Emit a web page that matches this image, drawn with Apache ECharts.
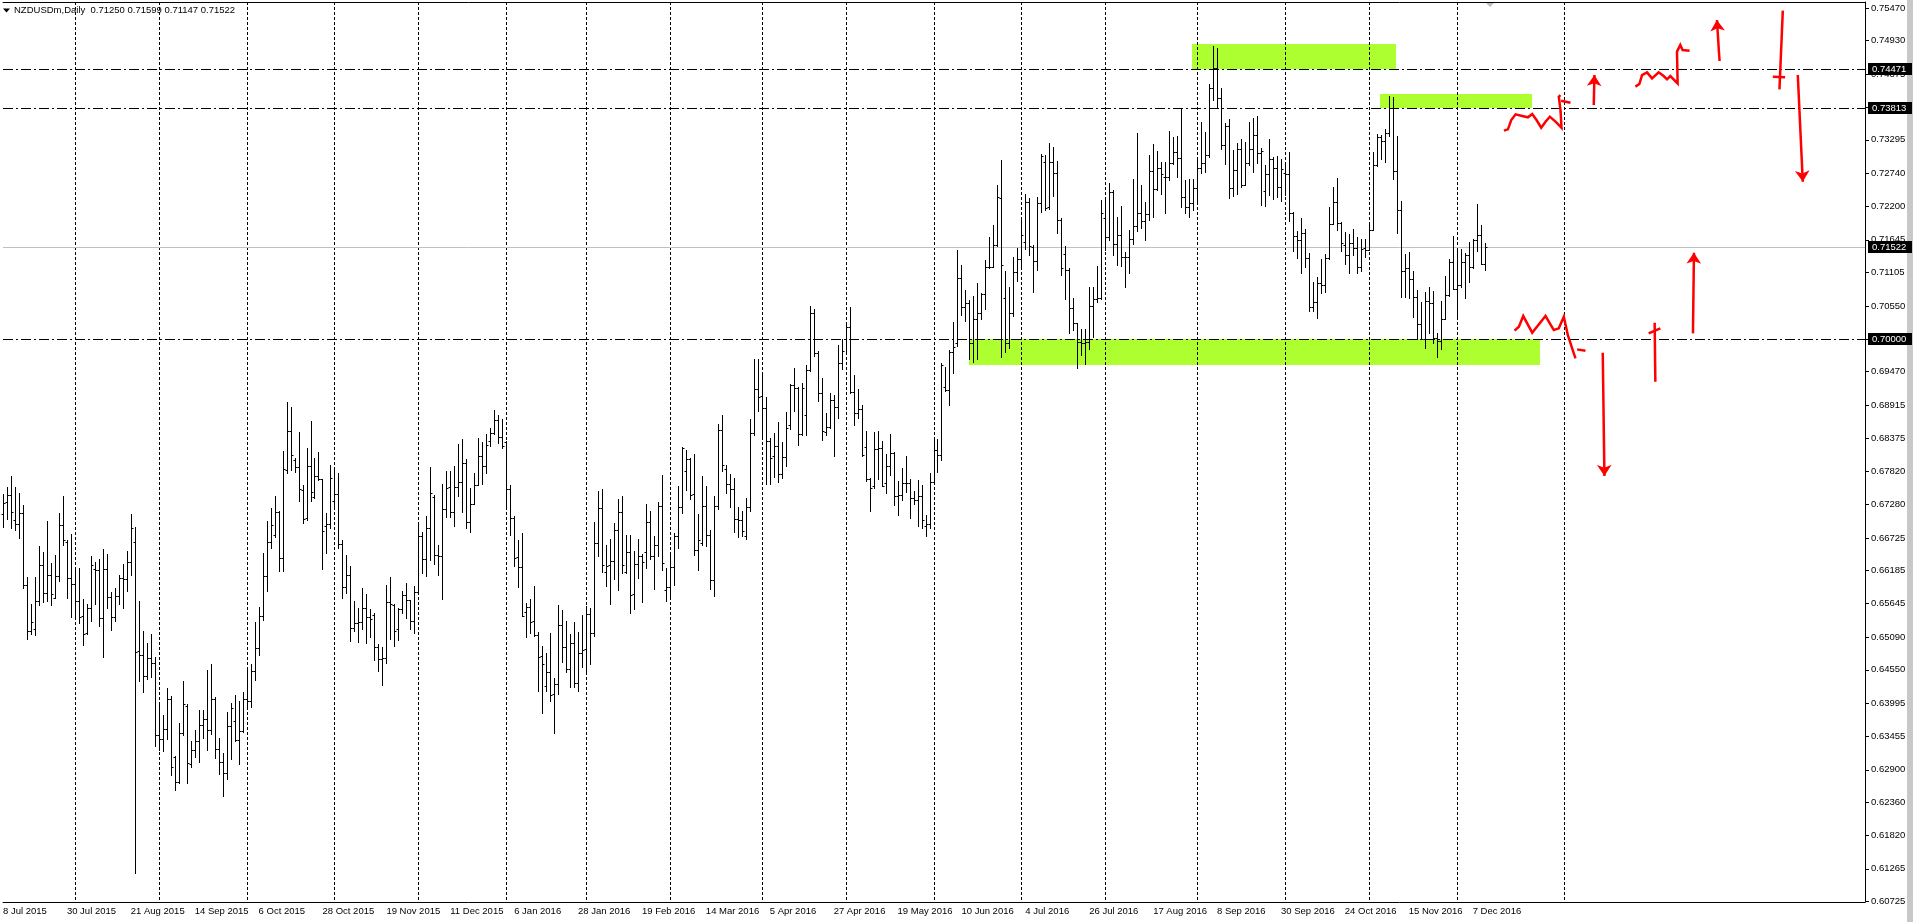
<!DOCTYPE html>
<html><head><meta charset="utf-8">
<script src="https://cdn.jsdelivr.net/npm/echarts@6.0.0/dist/echarts.min.js"></script>
<style>html,body{margin:0;padding:0;background:#fff;overflow:hidden}#c{width:1913px;height:922px}</style>
</head><body><div id="c"></div><script>
// NZDUSDm daily bars, index 0 = 8 Jul 2015 ... index 371 = 12 Dec 2016
const symbolTitle = 'NZDUSDm,Daily';
const opens = [
0.67120,0.67313,0.67429,0.67022,0.66956,0.67132,0.65944,0.65196,0.65229,0.65691,
0.66274,0.65817,0.66109,0.65735,0.66092,0.66939,0.66664,0.66059,0.65960,0.65691,
0.65443,0.65163,0.65570,0.66219,0.66191,0.65410,0.66219,0.65751,0.65421,0.65768,
0.66059,0.66050,0.66323,0.66664,0.64860,0.64794,0.64448,0.64745,0.64665,0.63469,
0.63403,0.63573,0.64074,0.63117,0.62693,0.63513,0.63950,0.62990,0.63227,0.63381,
0.63634,0.63738,0.63557,0.64063,0.63249,0.63034,0.62842,0.63623,0.63705,0.63390,
0.63546,0.64063,0.64035,0.64536,0.64904,0.65432,0.66092,0.66653,0.66769,0.67154,
0.66389,0.67841,0.68496,0.68012,0.67891,0.67511,0.67049,0.67918,0.67407,0.67748,
0.67690,0.66923,0.66950,0.67330,0.67445,0.66620,0.65922,0.66109,0.65245,0.65317,
0.65339,0.65564,0.65421,0.65449,0.64932,0.64723,0.64739,0.65669,0.65614,0.65218,
0.65559,0.65779,0.65696,0.65361,0.65839,0.66752,0.66378,0.66895,0.67407,0.66439,
0.66428,0.67198,0.67561,0.67159,0.67561,0.67643,0.67962,0.66983,0.67286,0.67605,
0.68072,0.67913,0.68331,0.68452,0.68672,0.68386,0.68309,0.67528,0.67055,0.66406,
0.66241,0.65498,0.65581,0.65361,0.65119,0.64778,0.64280,0.64514,0.64151,0.64316,
0.65295,0.64921,0.64558,0.64998,0.64327,0.64833,0.64888,0.65465,0.65152,0.66637,
0.67214,0.66158,0.66274,0.66340,0.66851,0.67154,0.66164,0.66488,0.65806,0.66290,
0.66428,0.66488,0.66989,0.66433,0.66604,0.67253,0.65867,0.65911,0.66241,0.66758,
0.67236,0.67825,0.68023,0.67451,0.66527,0.66648,0.67253,0.66769,0.66032,0.67253,
0.68507,0.67869,0.67610,0.67539,0.67033,0.67022,0.66763,0.67231,0.68463,0.69183,
0.69073,0.68870,0.68331,0.68078,0.68248,0.67781,0.68056,0.68589,0.69249,0.69194,
0.68441,0.68754,0.69502,0.70443,0.69772,0.69123,0.68468,0.68562,0.69002,0.68886,
0.69607,0.70003,0.70201,0.69139,0.68793,0.68853,0.68232,0.67698,0.67577,0.68188,
0.68204,0.67638,0.67913,0.68127,0.67412,0.67429,0.67627,0.67638,0.67385,0.67352,
0.67418,0.66923,0.66956,0.67649,0.68171,0.68094,0.69216,0.69167,0.69794,0.69948,
0.71015,0.70536,0.70602,0.69937,0.70338,0.70437,0.70745,0.71196,0.71202,0.71559,
0.72340,0.70685,0.69937,0.70443,0.71108,0.71323,0.71603,0.72263,0.71521,0.71295,
0.72252,0.72929,0.72192,0.72934,0.72742,0.71966,0.71405,0.71147,0.70514,0.70267,
0.69964,0.69937,0.69964,0.70553,0.70668,0.70679,0.72005,0.71692,0.72428,0.71570,
0.71719,0.71367,0.71356,0.71658,0.71873,0.72082,0.71950,0.72071,0.72780,0.72489,
0.72835,0.72687,0.72676,0.72907,0.73088,0.72995,0.72357,0.72181,0.72250,0.72494,
0.72830,0.72918,0.73039,0.74144,0.74474,0.73979,0.73204,0.73523,0.72494,0.72797,
0.73138,0.72549,0.72907,0.73138,0.73369,0.73083,0.72450,0.72725,0.72984,0.72824,
0.72511,0.72742,0.72731,0.72082,0.71713,0.71642,0.71752,0.71350,0.70542,0.70613,
0.70927,0.70899,0.71339,0.71906,0.72263,0.71928,0.71559,0.71389,0.71587,0.71510,
0.71202,0.71504,0.71482,0.71807,0.72874,0.73336,0.73270,0.73407,0.73814,0.72780,
0.72131,0.71136,0.71180,0.70998,0.70701,0.70256,0.70008,0.70641,0.70608,0.70030,
0.69981,0.70344,0.70729,0.71279,0.70834,0.70899,0.71279,0.71400,0.71196,0.71636,
0.71724,0.71250];
const highs = [
0.67450,0.67572,0.67753,0.67561,0.67462,0.67264,0.66076,0.65636,0.66076,0.66598,
0.66499,0.67005,0.66307,0.66450,0.67132,0.67418,0.66686,0.66796,0.66208,0.66224,
0.65718,0.65636,0.66433,0.66323,0.66384,0.66549,0.66466,0.65828,0.65900,0.66109,
0.66296,0.66516,0.67115,0.66912,0.65691,0.65196,0.64987,0.65141,0.64767,0.63980,
0.63804,0.64244,0.64123,0.63130,0.63667,0.64360,0.63990,0.63381,0.63562,0.63887,
0.63887,0.64552,0.64651,0.64096,0.63430,0.63172,0.63854,0.63997,0.64129,0.64035,
0.64178,0.64585,0.64651,0.65333,0.65581,0.66483,0.67005,0.67220,0.67412,0.67165,
0.68160,0.68963,0.68881,0.68050,0.68468,0.67594,0.68204,0.68650,0.68050,0.68144,
0.67700,0.67132,0.67924,0.67863,0.67792,0.66686,0.66444,0.66263,0.65685,0.65564,
0.65900,0.65806,0.65559,0.65482,0.64981,0.64926,0.65949,0.66081,0.65640,0.65570,
0.65845,0.65988,0.65702,0.65927,0.66956,0.66829,0.67088,0.67891,0.67430,0.66609,
0.67616,0.67836,0.67836,0.67913,0.68276,0.68353,0.68030,0.67555,0.67803,0.68369,
0.68314,0.68441,0.68534,0.68837,0.68754,0.68683,0.68320,0.67594,0.67093,0.66686,
0.66802,0.65658,0.65713,0.65927,0.65170,0.64943,0.64827,0.65152,0.64415,0.65614,
0.65537,0.65350,0.65135,0.65333,0.65174,0.65449,0.65597,0.65564,0.66989,0.67500,
0.67533,0.66609,0.66708,0.66967,0.67374,0.67418,0.66780,0.66780,0.66505,0.66708,
0.66461,0.67290,0.67173,0.66758,0.67319,0.67759,0.66230,0.66466,0.66807,0.67577,
0.68221,0.68177,0.68039,0.68111,0.67121,0.67742,0.67583,0.66851,0.67418,0.68606,
0.68754,0.67929,0.67775,0.67709,0.67242,0.67170,0.67390,0.68683,0.69673,0.69684,
0.69431,0.69057,0.68375,0.68457,0.68639,0.68309,0.68804,0.69266,0.69530,0.69216,
0.69282,0.69579,0.70553,0.70503,0.69810,0.69365,0.68793,0.69123,0.69079,0.69909,
0.70003,0.70250,0.70536,0.69414,0.69183,0.68919,0.68490,0.67710,0.68474,0.68490,
0.68325,0.68111,0.68441,0.68140,0.67665,0.67880,0.68078,0.67693,0.67506,0.67682,
0.67599,0.67099,0.67792,0.68347,0.68358,0.69607,0.69546,0.69821,0.70283,0.71477,
0.71224,0.70817,0.70646,0.70718,0.70927,0.70760,0.71317,0.71686,0.71895,0.72549,
0.72962,0.71136,0.70872,0.71361,0.71515,0.72010,0.72406,0.72340,0.71554,0.72351,
0.73061,0.73050,0.73248,0.73176,0.72945,0.72010,0.71543,0.71180,0.70685,0.70272,
0.70179,0.70179,0.70872,0.70866,0.71213,0.72302,0.72296,0.72577,0.72467,0.72027,
0.72203,0.71449,0.71807,0.72654,0.73413,0.72549,0.72274,0.73044,0.73231,0.73110,
0.72934,0.72923,0.73440,0.73347,0.73358,0.73814,0.72632,0.72654,0.72648,0.73000,
0.73589,0.73429,0.74210,0.74848,0.74804,0.74144,0.73567,0.73633,0.73127,0.73242,
0.73308,0.73253,0.73583,0.73649,0.73688,0.73154,0.72874,0.73308,0.73017,0.73022,
0.72984,0.72890,0.73088,0.72100,0.71790,0.71999,0.71823,0.71433,0.70943,0.71031,
0.71323,0.71411,0.72192,0.72511,0.72670,0.71944,0.71768,0.71746,0.71829,0.71686,
0.71664,0.71664,0.71906,0.73088,0.73391,0.73374,0.73468,0.74018,0.74001,0.73358,
0.72285,0.71416,0.71444,0.71136,0.70822,0.70624,0.70789,0.70861,0.70795,0.70102,
0.70641,0.71048,0.71328,0.71708,0.71504,0.71498,0.71433,0.71609,0.71664,0.72236,
0.71889,0.71599];
const lows = [
0.66900,0.67033,0.66884,0.66857,0.66730,0.65894,0.65064,0.65141,0.65130,0.65614,
0.65663,0.65685,0.65614,0.65729,0.66021,0.66609,0.65729,0.65421,0.65416,0.65322,
0.64965,0.65141,0.65355,0.65630,0.65273,0.64756,0.65564,0.65207,0.65355,0.65630,
0.65564,0.65850,0.66120,0.61192,0.64371,0.64184,0.64393,0.64437,0.63298,0.63232,
0.63216,0.63403,0.62814,0.62561,0.62680,0.63474,0.62688,0.62952,0.63106,0.63034,
0.63430,0.63227,0.63485,0.63100,0.62831,0.62473,0.62743,0.63084,0.63375,0.62996,
0.63520,0.63936,0.63931,0.64387,0.64800,0.65366,0.65856,0.66565,0.66736,0.66186,
0.66186,0.67800,0.67841,0.67808,0.67341,0.66978,0.67016,0.67341,0.67390,0.67682,
0.66219,0.66483,0.66890,0.67214,0.66554,0.65736,0.65812,0.65031,0.65190,0.65014,
0.65230,0.64998,0.65091,0.64712,0.64536,0.64305,0.64668,0.65064,0.64948,0.65047,
0.65482,0.65405,0.65229,0.65163,0.65800,0.66153,0.66092,0.66356,0.66290,0.66120,
0.65718,0.67071,0.67066,0.66928,0.67418,0.67159,0.66895,0.66829,0.67280,0.67594,
0.67610,0.67797,0.68248,0.68440,0.68298,0.68215,0.67209,0.66780,0.66268,0.65922,
0.65432,0.65097,0.65163,0.65113,0.64206,0.63832,0.64206,0.64041,0.63502,0.64145,
0.64684,0.64514,0.64272,0.64272,0.64206,0.64591,0.64503,0.64640,0.65108,0.66428,
0.66164,0.65938,0.65641,0.66048,0.65872,0.66142,0.66153,0.65482,0.65548,0.66070,
0.65663,0.66235,0.66384,0.65889,0.66428,0.66191,0.65685,0.65724,0.65954,0.66565,
0.67143,0.67511,0.67363,0.66439,0.66202,0.66604,0.66587,0.65889,0.65773,0.67198,
0.67836,0.67473,0.67231,0.66829,0.66741,0.66752,0.66703,0.67176,0.68419,0.68820,
0.68353,0.67610,0.67610,0.67737,0.67643,0.67720,0.67918,0.68518,0.68826,0.68254,
0.68424,0.68424,0.69486,0.69728,0.68990,0.68347,0.68424,0.68545,0.68083,0.68710,
0.69508,0.69772,0.69112,0.68589,0.68710,0.68083,0.67671,0.67176,0.67550,0.67704,
0.67577,0.67473,0.67759,0.67275,0.67110,0.67352,0.67484,0.67060,0.67286,0.66923,
0.66884,0.66763,0.66895,0.67632,0.67808,0.68017,0.69150,0.68925,0.69453,0.69893,
0.70399,0.70305,0.69673,0.69634,0.69673,0.70333,0.70498,0.71174,0.71191,0.71537,
0.69717,0.69794,0.69865,0.70393,0.70965,0.71174,0.71493,0.71389,0.70789,0.71140,
0.72104,0.72142,0.72159,0.72373,0.71752,0.71070,0.70674,0.70102,0.70157,0.69524,
0.69750,0.69590,0.69838,0.70047,0.70624,0.70660,0.71477,0.71642,0.71400,0.71224,
0.71213,0.70872,0.71103,0.71576,0.71785,0.71834,0.71647,0.71977,0.72027,0.72467,
0.72406,0.72087,0.72632,0.72890,0.72687,0.72192,0.72093,0.72027,0.72137,0.72258,
0.72742,0.72769,0.73006,0.73952,0.73814,0.73138,0.72896,0.72341,0.72368,0.72406,
0.72522,0.72544,0.72879,0.72769,0.72918,0.72219,0.72208,0.72384,0.72324,0.72351,
0.72280,0.72379,0.71961,0.71466,0.71350,0.71092,0.71202,0.70465,0.70476,0.70349,
0.70773,0.70778,0.71328,0.71900,0.71807,0.71466,0.71240,0.71092,0.71389,0.71092,
0.71136,0.71366,0.71477,0.71801,0.72860,0.72973,0.72929,0.73358,0.72643,0.71752,
0.70696,0.70701,0.70679,0.70377,0.70003,0.70003,0.69860,0.70113,0.69948,0.69717,
0.69843,0.70340,0.70720,0.70828,0.70377,0.70872,0.70685,0.70949,0.71180,0.71466,
0.71246,0.71147];
const closes = [
0.67310,0.67429,0.67148,0.66956,0.67132,0.65944,0.65196,0.65339,0.65691,0.66274,
0.65817,0.66109,0.65801,0.66092,0.66939,0.66692,0.66059,0.65960,0.65680,0.65427,
0.65141,0.65570,0.66274,0.66197,0.65410,0.66219,0.65751,0.65421,0.65768,0.66059,
0.66050,0.66323,0.66890,0.64849,0.64794,0.64448,0.64745,0.64665,0.63469,0.63403,
0.63573,0.64074,0.62941,0.62693,0.63513,0.63980,0.63012,0.63227,0.63381,0.63634,
0.63738,0.63557,0.64063,0.63249,0.63034,0.62842,0.63623,0.63914,0.63390,0.63546,
0.64063,0.64035,0.64536,0.64904,0.65432,0.66092,0.66653,0.66934,0.67154,0.66389,
0.67869,0.68496,0.68089,0.67891,0.67528,0.67033,0.67918,0.67478,0.67748,0.67690,
0.66835,0.66950,0.67709,0.67445,0.66620,0.65922,0.66109,0.65245,0.65317,0.65339,
0.65564,0.65421,0.65394,0.64932,0.64723,0.64739,0.65669,0.65636,0.65196,0.65559,
0.65779,0.65696,0.65361,0.65839,0.66752,0.66378,0.66895,0.67462,0.66439,0.66428,
0.67198,0.67544,0.67159,0.67561,0.67643,0.67962,0.66983,0.67286,0.67605,0.68072,
0.67913,0.68254,0.68452,0.68672,0.68386,0.68248,0.67528,0.67055,0.66395,0.66241,
0.65443,0.65581,0.65339,0.65119,0.64767,0.64640,0.64514,0.64129,0.64316,0.65295,
0.64921,0.64558,0.64998,0.64327,0.64833,0.64877,0.65465,0.65152,0.66637,0.67214,
0.66274,0.66263,0.66340,0.66851,0.67154,0.66274,0.66488,0.65784,0.66290,0.66428,
0.66329,0.66989,0.66433,0.66604,0.67253,0.66307,0.65911,0.66241,0.66758,0.67236,
0.68204,0.68023,0.67429,0.66527,0.66692,0.67253,0.66769,0.66032,0.67253,0.68507,
0.67935,0.67610,0.67539,0.67033,0.67022,0.66840,0.67231,0.68452,0.69183,0.69051,
0.68870,0.68331,0.68045,0.68248,0.67781,0.68056,0.68540,0.69249,0.69194,0.68441,
0.69205,0.69502,0.70443,0.69772,0.69123,0.68496,0.68562,0.69002,0.68886,0.69607,
0.69810,0.70201,0.69139,0.68793,0.68853,0.68094,0.67698,0.67555,0.68188,0.68204,
0.67588,0.67913,0.68127,0.67412,0.67429,0.67627,0.67638,0.67385,0.67352,0.67418,
0.67022,0.66956,0.67649,0.68171,0.68094,0.69574,0.69167,0.69794,0.69876,0.71015,
0.70536,0.70602,0.69937,0.70338,0.70437,0.70745,0.71196,0.71202,0.71559,0.72346,
0.71224,0.69937,0.70443,0.71108,0.71323,0.71724,0.72263,0.71543,0.71295,0.72252,
0.73022,0.72175,0.72934,0.72742,0.71966,0.71180,0.71147,0.70514,0.70267,0.69964,
0.69937,0.69964,0.70553,0.70668,0.70679,0.72082,0.71692,0.72428,0.71570,0.71719,
0.71367,0.71356,0.71658,0.71873,0.72082,0.71950,0.72071,0.72780,0.72489,0.72835,
0.72736,0.72676,0.72907,0.73088,0.72995,0.72357,0.72181,0.72250,0.72494,0.72830,
0.72918,0.73039,0.74144,0.74474,0.73979,0.73204,0.73523,0.72494,0.72797,0.73138,
0.72549,0.72907,0.73138,0.73369,0.73083,0.73116,0.72725,0.72984,0.72824,0.72511,
0.72813,0.72731,0.72082,0.71713,0.71642,0.71752,0.71350,0.70542,0.70613,0.70927,
0.70899,0.71339,0.71906,0.72263,0.71928,0.71598,0.71389,0.71587,0.71510,0.71202,
0.71493,0.71482,0.71807,0.72874,0.73336,0.73270,0.73407,0.73814,0.72780,0.72131,
0.71136,0.71180,0.70998,0.70701,0.70256,0.70008,0.70641,0.70608,0.70030,0.69981,
0.70344,0.70729,0.71279,0.70834,0.70899,0.71279,0.71400,0.71196,0.71636,0.71724,
0.71250,0.71522];

// time axis labels (every 16 bars) and month-start grid lines (bar index)
const dateLabels = ['8 Jul 2015','30 Jul 2015','21 Aug 2015','14 Sep 2015','6 Oct 2015','28 Oct 2015',
  '19 Nov 2015','11 Dec 2015','6 Jan 2016','28 Jan 2016','19 Feb 2016','14 Mar 2016','5 Apr 2016',
  '27 Apr 2016','19 May 2016','10 Jun 2016','4 Jul 2016','26 Jul 2016','17 Aug 2016','8 Sep 2016',
  '30 Sep 2016','24 Oct 2016','15 Nov 2016','7 Dec 2016'];
const dateLabelIdx = [0,16,32,48,64,80,96,112,128,144,160,176,192,208,224,240,256,272,288,304,320,336,352,368];
const monthStartIdx = [18,39,61,83,104,126,146,167,190,211,233,255,276,299,321,342,364,391];

// price scale tick labels
const priceTicks = [0.75470,0.74930,0.74375,0.73835,0.73295,0.72740,0.72200,0.71645,0.71105,0.70550,
  0.70010,0.69470,0.68915,0.68375,0.67820,0.67280,0.66725,0.66185,0.65645,0.65090,0.64550,0.63995,
  0.63455,0.62900,0.62360,0.61820,0.61265,0.60725];

// horizontal levels: [price, kind] kind 0 = dash-dot level, 1 = current bid line
const levels = [[0.74471,0],[0.73813,0],[0.70000,0],[0.71522,1]];

// green zones: [fromBar, toBar, topPrice, bottomPrice]
const zones = [[297.8,348.7,0.74876,0.74471],[344.75,382.75,0.74051,0.73813],[241.9,384.75,0.70000,0.69579]];

// hand-drawn red strokes (bar index, price)
const redStrokes = [
  [[375.83,0.73446],[376.83,0.73468],[377.67,0.73622],[378.75,0.73715],[380.42,0.73688],[381.83,0.73666],[382.92,0.73721],[384.0,0.73622],[385.17,0.73495],[386.25,0.73594],[387.33,0.73677],[388.75,0.73594],[390.25,0.73495],[390.0,0.73787],[389.58,0.74007],[390.0,0.74034]],
  [[390.17,0.7394],[392.5,0.73908]],
  [[408.75,0.74172],[409.75,0.74216],[410.42,0.74364],[411.67,0.74408],[412.92,0.74309],[414.58,0.74408],[415.83,0.74348],[416.67,0.74293],[417.5,0.74348],[419.33,0.74227],[419.17,0.7475],[420.0,0.7486],[420.58,0.74777],[422.33,0.74766]],
  [[444.83,0.74128],[445.67,0.75426]],
  [[443.17,0.74337],[446.25,0.74326]],
  [[378.5,0.70145],[379.58,0.70211],[380.67,0.70387],[382.92,0.70112],[386.25,0.70387],[388.33,0.70156],[389.58,0.70184],[390.83,0.70376],[391.83,0.70074],[392.92,0.69854],[393.75,0.69689]],
  [[394.17,0.69837],[396.25,0.69815]],
  [[413.75,0.69304],[413.58,0.70277]],
  [[412.08,0.70101],[415.0,0.70184]]
];
const redArrows = [
  [[398.33,0.73869],[398.5,0.74364]],
  [[429.83,0.74595],[429.17,0.75272]],
  [[449.42,0.74364],[450.67,0.72604]],
  [[400.58,0.69782],[401.0,0.67748]],
  [[423.17,0.70101],[423.42,0.71433]]
];

const FONT = 'Liberation Sans';
const last = opens.length - 1;
const titleText = symbolTitle + '  ' + [opens[last], highs[last], lows[last], closes[last]].map(v => v.toFixed(5)).join(' ');
const barData = opens.map((o, i) => [i, o, highs[i], lows[i], closes[i]]);

function renderBar(params, api) {
  const i = api.value(0);
  const o = api.coord([i, api.value(1)]);
  const h = api.coord([i, api.value(2)]);
  const l = api.coord([i, api.value(3)]);
  const c = api.coord([i, api.value(4)]);
  const x = Math.round(h[0]) + 0.5;
  const st = {stroke: '#000', lineWidth: 1};
  const oy = Math.round(o[1]) + 0.5, cy = Math.round(c[1]) + 0.5;
  return {type: 'group', children: [
    {type: 'line', shape: {x1: x, y1: Math.round(h[1]), x2: x, y2: Math.round(l[1]) + 1}, style: st},
    {type: 'line', shape: {x1: x - 2, y1: oy, x2: x, y2: oy}, style: st},
    {type: 'line', shape: {x1: x, y1: cy, x2: x + 2, y2: cy}, style: st}
  ]};
}
function renderGridLine(params, api) {
  const cs = params.coordSys;
  const x = Math.round(api.coord([api.value(0), 0.7])[0]) + 0.5;
  return {type: 'line', shape: {x1: x, y1: cs.y, x2: x, y2: cs.y + cs.height},
    style: {stroke: '#000', lineWidth: 1, lineDash: [3, 2]}};
}
function renderLevel(params, api) {
  const cs = params.coordSys;
  const price = api.value(0);
  const kind = api.value(1);
  const y = Math.round(api.coord([0, price])[1]) + 0.5;
  const right = cs.x + cs.width;
  return {type: 'group', children: [
    {type: 'line', shape: {x1: cs.x, y1: y, x2: right, y2: y},
      style: kind ? {stroke: '#c0c0c0', lineWidth: 1} : {stroke: '#000', lineWidth: 1, lineDash: [10, 3, 2, 3]}},
    {type: 'rect', shape: {x: right + 3, y: y - 6.5, width: 44, height: 12}, style: {fill: '#000'}},
    {type: 'text', style: {x: right + 7, y: y, text: price.toFixed(5), fill: '#fff',
      font: '9.5px "' + FONT + '"', align: 'left', verticalAlign: 'middle'}}
  ]};
}
function renderZone(params, api) {
  const p1 = api.coord([api.value(0), api.value(2)]);
  const p2 = api.coord([api.value(1), api.value(3)]);
  return {type: 'rect', shape: {x: Math.round(p1[0]), y: Math.round(p1[1]), width: Math.round(p2[0]) - Math.round(p1[0]), height: Math.round(p2[1]) - Math.round(p1[1])},
    style: {fill: '#adff2f'}};
}

const chart = echarts.init(document.getElementById('c'), null, {renderer: 'canvas', width: 1913, height: 922});
chart.setOption({
  animation: false,
  backgroundColor: '#ffffff',
  grid: {left: 0, top: 2, width: 1865, height: 900, show: false},
  xAxis: [{
    type: 'value', min: 0, max: 466.25, position: 'bottom',
    axisLine: {show: true, onZero: false, lineStyle: {color: '#000', width: 1}},
    axisTick: {show: false}, splitLine: {show: false},
    axisLabel: {customValues: dateLabelIdx, align: 'left', margin: 4, color: '#000', fontFamily: FONT, fontSize: 9.5,
      formatter: v => { const k = dateLabelIdx.indexOf(Math.round(v)); return k >= 0 ? dateLabels[k] : ''; }}
  }, {
    type: 'value', min: 0, max: 466.25, position: 'top',
    axisLine: {show: true, onZero: false, lineStyle: {color: '#000', width: 1}},
    axisTick: {show: false}, axisLabel: {show: false}, splitLine: {show: false}
  }],
  yAxis: {
    type: 'value', position: 'right', min: 0.60718, max: 0.75569,
    axisLine: {show: true, onZero: false, lineStyle: {color: '#000', width: 1}},
    axisTick: {show: true, length: 4, customValues: priceTicks, lineStyle: {color: '#000'}},
    axisLabel: {customValues: priceTicks, margin: 6, color: '#000', fontFamily: FONT, fontSize: 9.5,
      formatter: v => v.toFixed(5)},
    splitLine: {show: false}
  },
  series: [
    {type: 'custom', name: 'zones', z: 1, silent: true, renderItem: renderZone, data: zones},
    {type: 'custom', name: 'months', z: 2, silent: true, renderItem: renderGridLine, data: monthStartIdx.map(v => [v])},
    {type: 'custom', name: 'levels', z: 3, silent: true, renderItem: renderLevel, data: levels},
    {type: 'custom', name: 'NZDUSD', z: 4, silent: true, renderItem: renderBar, data: barData},
    {type: 'lines', coordinateSystem: 'cartesian2d', polyline: true, z: 5, silent: true,
      lineStyle: {color: '#ff0000', width: 2.5, opacity: 1, curveness: 0},
      data: redStrokes.map(c => ({coords: c}))},
    {type: 'lines', coordinateSystem: 'cartesian2d', polyline: false, z: 5, silent: true,
      symbol: ['none', 'arrow'], symbolSize: 11,
      itemStyle: {color: '#ff0000'},
      lineStyle: {color: '#ff0000', width: 2.5, opacity: 1, curveness: 0},
      data: redArrows.map(c => ({coords: c}))}
  ],
  graphic: [
    {type: 'polygon', shape: {points: [[3, 8.5], [10, 8.5], [6.5, 12.5]]}, style: {fill: '#000'}},
    {type: 'text', x: 14, y: 5, style: {text: titleText, font: '9.5px "' + FONT + '"', fill: '#000'}},
    {type: 'rect', shape: {x: 1907, y: 0, width: 6, height: 922}, style: {fill: '#c8c8c8'}},
    {type: 'polygon', shape: {points: [[1485, 2], [1495, 2], [1490, 7]]}, style: {fill: '#bdbdbd'}}
  ]
});
</script></body></html>
